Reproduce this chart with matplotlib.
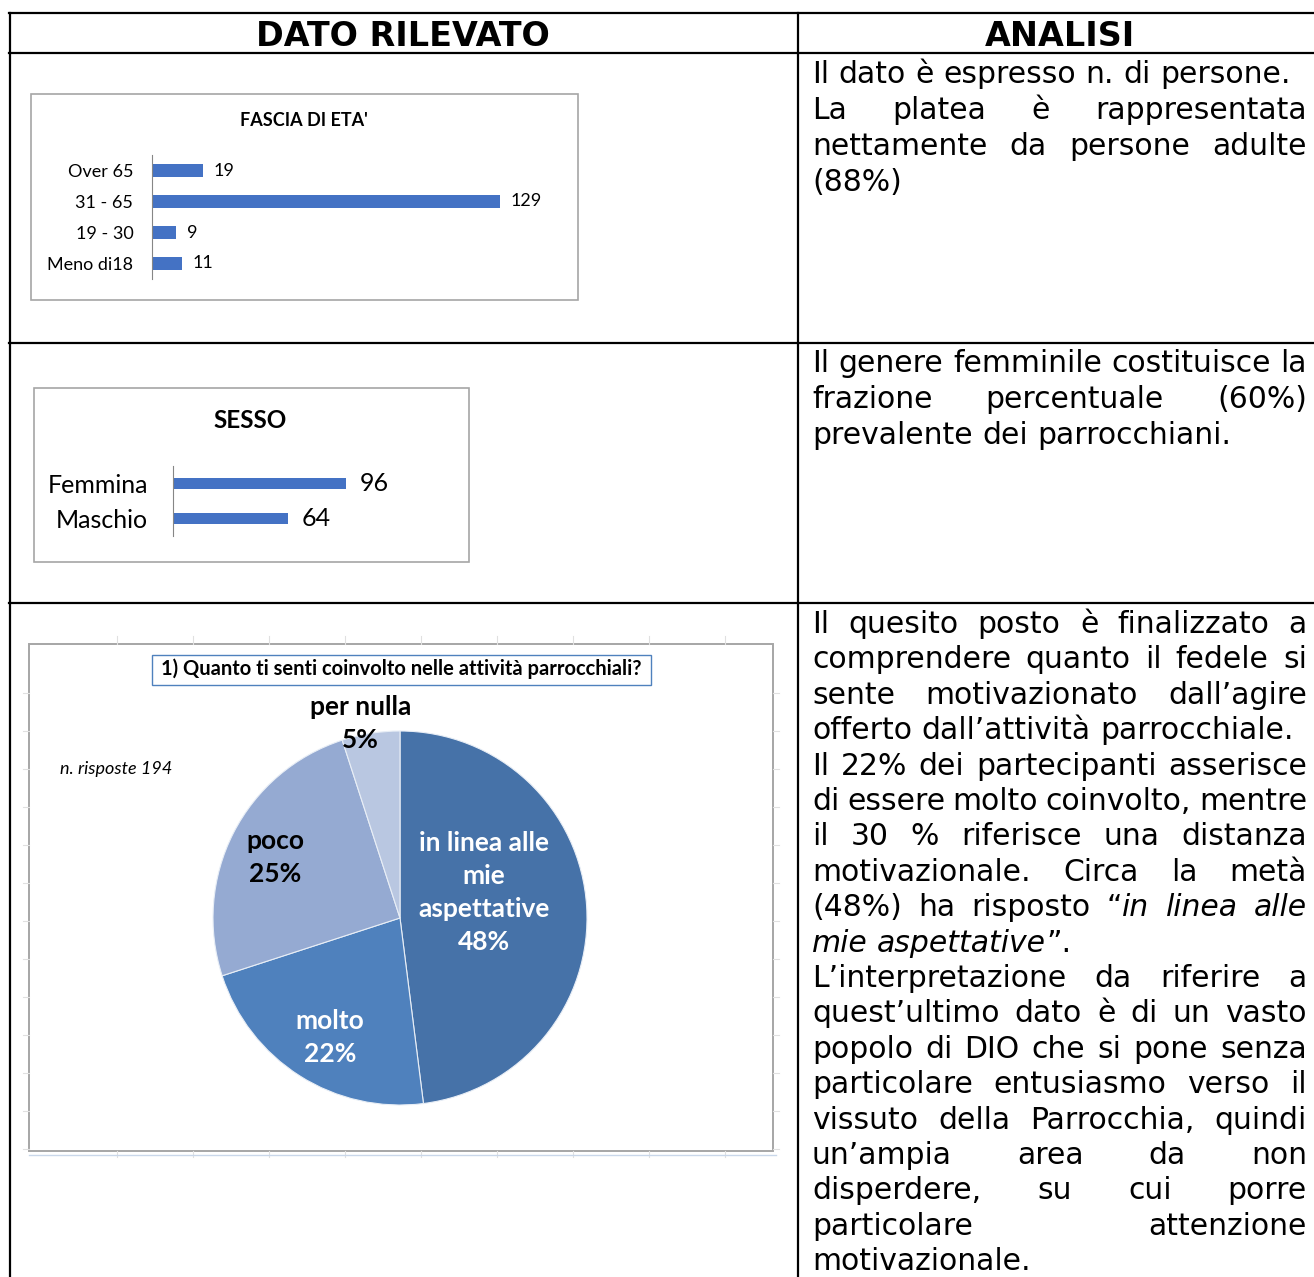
import numpy as np
import matplotlib
matplotlib.use('Agg')
import matplotlib.pyplot as plt
from matplotlib.patches import Rectangle
from matplotlib.lines import Line2D

W, H = 1314, 1277

# --- dati ---
eta_categorie = ['Over 65', '31 - 65', '19 - 30', 'Meno di18']
eta_valori = [19, 129, 9, 11]

sesso_categorie = ['Femmina', 'Maschio']
sesso_valori = [96, 64]

coinv_etichette = ['in linea alle\nmie\naspettative', 'molto', 'poco', 'per nulla']
coinv_perc = [48, 22, 25, 5]
n_risposte = 194

# testo colonna ANALISI: (riga, giustificata); *...* = corsivo
analisi_1 = [
    ('Il dato è espresso n. di persone.', False),
    ('La platea è rappresentata', True),
    ('nettamente da persone adulte', True),
    ('(88%)', False),
]
analisi_2 = [
    ('Il genere femminile costituisce la', True),
    ('frazione percentuale (60%)', True),
    ('prevalente dei parrocchiani.', False),
]
analisi_3 = [
    ('Il quesito posto è finalizzato a', True),
    ('comprendere quanto il fedele si', True),
    ('sente motivazionato dall’agire', True),
    ('offerto dall’attività parrocchiale.', False),
    ('Il 22% dei partecipanti asserisce', True),
    ('di essere molto coinvolto, mentre', True),
    ('il 30 % riferisce una distanza', True),
    ('motivazionale. Circa la metà', True),
    ('(48%) ha risposto “*in linea alle', True),
    ('mie aspettative*”.', False),
    ('L’interpretazione da riferire a', True),
    ('quest’ultimo dato è di un vasto', True),
    ('popolo di DIO che si pone senza', True),
    ('particolare entusiasmo verso il', True),
    ('vissuto della Parrocchia, quindi', True),
    ('un’ampia area da non', True),
    ('disperdere, su cui porre', True),
    ('particolare attenzione', True),
    ('motivazionale.', False),
]

# stile
BLU = '#4472C4'
COL_TORTA = ['#4672A8', '#4F81BD', '#95AAD2', '#B9C7E1']
GRIGIO = '#A6A6A6'
FONT_XL = 'Lato'
FONT_DOC = 'DejaVu Sans'

fig = plt.figure(figsize=(W / 100, H / 100), dpi=100)
renderer = fig.canvas.get_renderer()


def fx(x):
    return x / W


def fy(y):
    return 1 - y / H


def assi_px(x0, y0, x1, y1):
    return fig.add_axes([fx(x0), fy(y1), (x1 - x0) / W, (y1 - y0) / H])


def linea(x0, y0, x1, y1, **kw):
    fig.add_artist(Line2D([fx(x0), fx(x1)], [fy(y0), fy(y1)], transform=fig.transFigure, **kw))


def riquadro(x0, y0, x1, y1, ec=GRIGIO, lw=1.2):
    fig.add_artist(Rectangle((fx(x0), fy(y1)), (x1 - x0) / W, (y1 - y0) / H,
                             transform=fig.transFigure, fc='white', ec=ec, lw=lw, zorder=0))


# --- tabella ---
lw_tab = 1.6
linea(9, 13, 1314, 13, color='black', lw=lw_tab)
linea(9, 53, 1314, 53, color='black', lw=lw_tab)
linea(9, 343, 1314, 343, color='black', lw=lw_tab)
linea(9, 603, 1314, 603, color='black', lw=lw_tab)
linea(10, 13, 10, 1277, color='black', lw=lw_tab)
linea(798, 13, 798, 1277, color='black', lw=lw_tab)

fig.text(fx(403), fy(36), 'DATO RILEVATO', ha='center', va='center',
         fontsize=24, fontweight='bold', family=FONT_DOC)
fig.text(fx(1060), fy(36), 'ANALISI', ha='center', va='center',
         fontsize=24, fontweight='bold', family=FONT_DOC)


# --- testo giustificato ---
def larghezza(testo, corsivo, size):
    t = fig.text(0, 0, testo, fontsize=size, family=FONT_DOC,
                 fontstyle='italic' if corsivo else 'normal')
    w = t.get_window_extent(renderer).width
    t.remove()
    return w


def paragrafo(righe, x0, x1, y_base, passo, size=21.5):
    spazio = larghezza('a a', False, size) - larghezza('aa', False, size)
    corsivo = False
    for i, (riga, giust) in enumerate(righe):
        parole = []
        for p in riga.split(' '):
            segs = []
            for k, parte in enumerate(p.split('*')):
                if k > 0:
                    corsivo = not corsivo
                if parte:
                    segs.append((parte, corsivo, larghezza(parte, corsivo, size)))
            parole.append(segs)
        tot = sum(s[2] for segs in parole for s in segs)
        if giust and len(parole) > 1:
            gap = (x1 - x0 - tot) / (len(parole) - 1)
        else:
            gap = spazio
        x = x0
        y = y_base + i * passo
        for segs in parole:
            for testo, cors, w in segs:
                fig.text(fx(x), fy(y), testo, fontsize=size, family=FONT_DOC,
                         fontstyle='italic' if cors else 'normal', va='baseline')
                x += w
            x += gap


paragrafo(analisi_1, 812, 1307, 83, 36)
paragrafo(analisi_2, 812, 1307, 372, 36)
paragrafo(analisi_3, 812, 1307, 633, 35.4)

# --- grafico 1: fascia di età ---
riquadro(31, 94, 578, 300)
fig.text(fx(304), fy(120), "FASCIA DI ETA'", ha='center', va='center',
         fontsize=13, fontweight='bold', family=FONT_XL)
ax1 = assi_px(152, 155, 152 + 2.70 * 140, 279)
b1 = ax1.barh(eta_categorie, eta_valori, height=0.4, color=BLU)
ax1.set_xlim(0, 140)
ax1.set_ylim(3.5, -0.5)
ax1.bar_label(b1, padding=7.5, fontsize=13, family=FONT_XL)
ax1.tick_params(axis='y', length=0, pad=13.5, labelsize=13)
for lab in ax1.get_yticklabels():
    lab.set_family(FONT_XL)
ax1.set_xticks([])
for s in ['top', 'right', 'bottom']:
    ax1.spines[s].set_visible(False)
ax1.spines['left'].set_color('#868686')
ax1.patch.set_alpha(0)

# --- grafico 2: sesso ---
riquadro(34, 388, 469, 562)
fig.text(fx(250), fy(421), 'SESSO', ha='center', va='center',
         fontsize=17.5, fontweight='bold', family=FONT_XL)
ax2 = assi_px(173, 466, 173 + 1.80 * 150, 536)
b2 = ax2.barh(sesso_categorie, sesso_valori, height=0.34, color=BLU)
ax2.set_xlim(0, 150)
ax2.set_ylim(1.5, -0.5)
ax2.bar_label(b2, padding=10, fontsize=18, family=FONT_XL)
ax2.tick_params(axis='y', length=0, pad=18, labelsize=18)
for lab in ax2.get_yticklabels():
    lab.set_family(FONT_XL)
ax2.set_xticks([])
for s in ['top', 'right', 'bottom']:
    ax2.spines[s].set_visible(False)
ax2.spines['left'].set_color('#868686')
ax2.patch.set_alpha(0)

# --- grafico 3: torta ---
# griglia del foglio che spunta attorno al grafico
for gx in np.arange(117, 760, 76):
    linea(gx, 636, gx, 644, color='#E0E0E0', lw=0.8)
    linea(gx, 1151, gx, 1157, color='#E0E0E0', lw=0.8)
for gy in np.arange(693, 1150, 38):
    linea(773, gy, 779, gy, color='#E0E0E0', lw=0.8)
    linea(23, gy, 29, gy, color='#E0E0E0', lw=0.8)
linea(29, 1155, 776, 1155, color='#C9D7EA', lw=1.0)
riquadro(29, 644, 773, 1151, lw=1.4)
riquadro(152, 655, 651, 685, ec='#4F81BD', lw=1.0)
fig.text(fx(401), fy(669), '1) Quanto ti senti coinvolto nelle attività parrocchiali?',
         ha='center', va='center', fontsize=14.5, fontweight='bold', family=FONT_XL)
fig.text(fx(60), fy(769), f'n. risposte {n_risposte}', ha='left', va='center',
         fontsize=13, fontstyle='italic', family=FONT_XL)

ax3 = assi_px(213, 731, 587, 1105)
wedges, _ = ax3.pie(coinv_perc, colors=COL_TORTA, startangle=90, counterclock=False,
                    wedgeprops=dict(edgecolor='#E8EEF6', linewidth=0.8))
ax3.set_xlim(-1, 1)
ax3.set_ylim(-1, 1)
ax3.set_aspect('equal')

dist = [0.47, 0.74, 0.74, 1.06]
rot = [13, 2, 1, 2.5]
col_testo = ['white', 'white', 'black', 'black']
for w, et, p, d, r, c in zip(wedges, coinv_etichette, coinv_perc, dist, rot, col_testo):
    th = np.deg2rad((w.theta1 + w.theta2) / 2 + r)
    ax3.text(d * np.cos(th), d * np.sin(th), f'{et}\n{p}%', ha='center', va='center',
             color=c, fontsize=19, fontweight='bold', family=FONT_XL, linespacing=1.45)

fig.savefig('out.png', dpi=100)
